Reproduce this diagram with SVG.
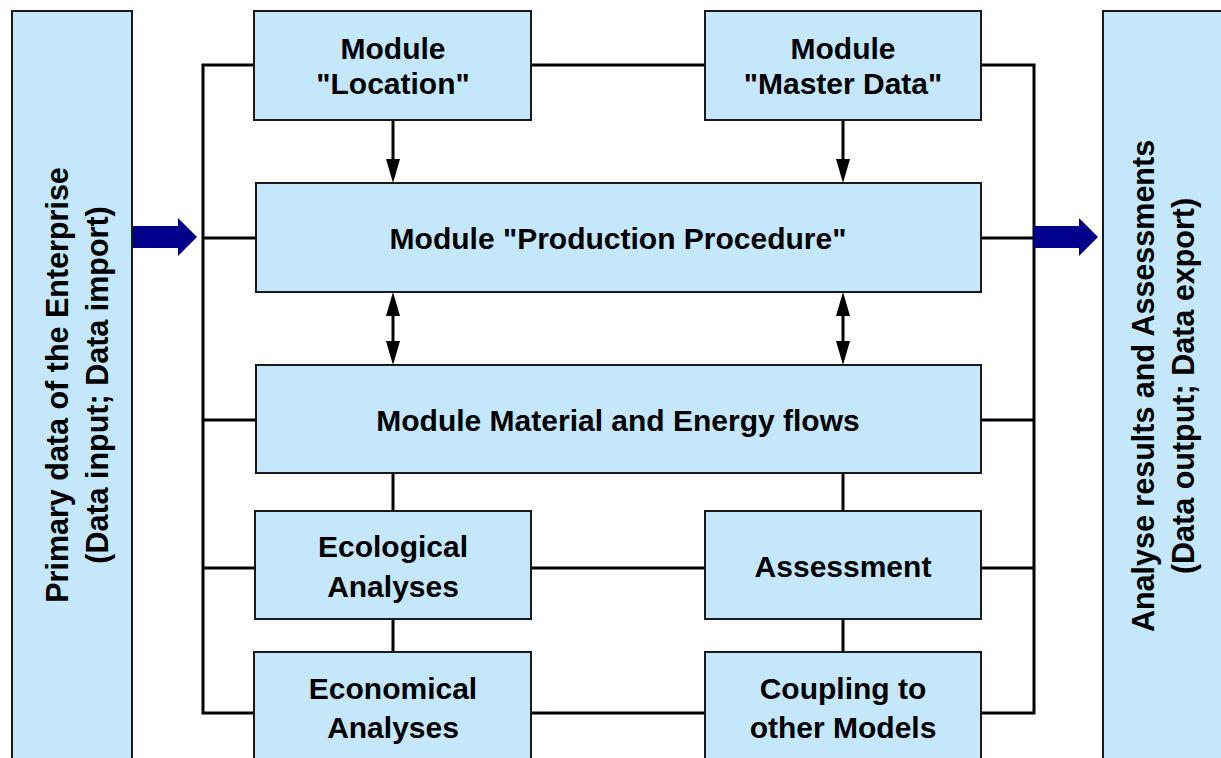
<svg xmlns="http://www.w3.org/2000/svg" width="1221" height="758" viewBox="0 0 1221 758">
<style>
.box{fill:#c5e7fb;stroke:#1a1a1a;stroke-width:2}
.t{font-family:"Liberation Sans",Arial,sans-serif;font-weight:bold;font-size:30px;fill:#000;text-anchor:middle}
.v{font-size:30.5px}
.ln{stroke:#000;stroke-width:3;fill:none}
.big{fill:#00008b}
</style>
<g id="connectors">
<path class="ln" d="M254,65 H203 V713 H254"/>
<path class="ln" d="M981,65 H1034 V713 H981"/>
<path class="ln" d="M531,65 H705"/>
<path class="ln" d="M203,238 H256 M981,238 H1034"/>
<path class="ln" d="M203,420 H256 M981,420 H1034"/>
<path class="ln" d="M203,568 H255 M531,568 H705 M981,568 H1034"/>
<path class="ln" d="M531,713 H705"/>
<path class="ln" d="M393,473 V511 M393,619 V652 M843,473 V511 M843,619 V652"/>
<g stroke="#000" stroke-width="3">
<line x1="393" y1="120" x2="393" y2="165"/>
<line x1="843" y1="120" x2="843" y2="165"/>
<line x1="393" y1="312" x2="393" y2="345"/>
<line x1="843" y1="312" x2="843" y2="345"/>
</g>
<g fill="#000">
<path d="M386,159 L393,183 L400,159 Z"/>
<path d="M836,159 L843,183 L850,159 Z"/>
<path d="M386,341 L393,365 L400,341 Z"/>
<path d="M836,341 L843,365 L850,341 Z"/>
<path d="M386,316 L393,292 L400,316 Z"/>
<path d="M836,316 L843,292 L850,316 Z"/>
</g>
<path class="big" d="M133,226 H178 V218 L197,237 L178,256 V248 H133 Z"/>
<path class="big" d="M1034,226 H1079 V218 L1098,237 L1079,256 V248 H1034 Z"/>
</g>
<g id="input">
<rect class="box" x="12" y="11" width="120" height="760"/>
<text class="t v" transform="translate(68,385) rotate(-90)">Primary data of the Enterprise</text>
<text class="t v" transform="translate(108,385) rotate(-90)">(Data input; Data import)</text>
</g>
<g id="output">
<rect class="box" x="1103" y="11" width="130" height="760"/>
<text class="t v" transform="translate(1154,386) rotate(-90)">Analyse results and Assessments</text>
<text class="t v" transform="translate(1194,386) rotate(-90)">(Data output; Data export)</text>
</g>
<g id="location">
<rect class="box" x="254" y="11" width="277" height="109"/>
<text class="t" x="393" y="59">Module</text>
<text class="t" x="393" y="94">"Location"</text>
</g>
<g id="masterdata">
<rect class="box" x="705" y="11" width="276" height="109"/>
<text class="t" x="843" y="59">Module</text>
<text class="t" x="843" y="94">"Master Data"</text>
</g>
<g id="production">
<rect class="box" x="256" y="183" width="725" height="109"/>
<text class="t" x="618" y="249">Module "Production Procedure"</text>
</g>
<g id="material">
<rect class="box" x="256" y="365" width="725" height="108"/>
<text class="t" x="618" y="431">Module Material and Energy flows</text>
</g>
<g id="ecological">
<rect class="box" x="255" y="511" width="276" height="108"/>
<text class="t" x="393" y="557">Ecological</text>
<text class="t" x="393" y="597">Analyses</text>
</g>
<g id="assessment">
<rect class="box" x="705" y="511" width="276" height="108"/>
<text class="t" x="843" y="577">Assessment</text>
</g>
<g id="economical">
<rect class="box" x="254" y="652" width="277" height="120"/>
<text class="t" x="393" y="699">Economical</text>
<text class="t" x="393" y="738">Analyses</text>
</g>
<g id="coupling">
<rect class="box" x="705" y="652" width="276" height="120"/>
<text class="t" x="843" y="699">Coupling to</text>
<text class="t" x="843" y="738">other Models</text>
</g>
</svg>
